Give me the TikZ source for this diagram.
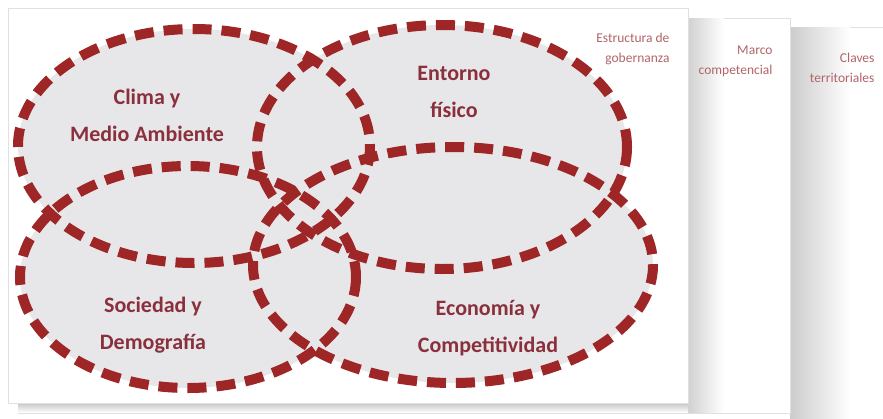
\documentclass[tikz,border=0pt]{standalone}
\usepackage{fontspec}
\setmainfont{Carlito}
\usetikzlibrary{shapes.geometric}
\definecolor{dashred}{RGB}{158,38,38}
\definecolor{txtred}{RGB}{138,48,60}
\definecolor{efill}{RGB}{231,231,233}
\definecolor{lbl}{RGB}{178,100,105}
\begin{document}
\begin{tikzpicture}[x=1pt,y=-1pt,
  card/.style={fill=white, draw=black!12, line width=0.6pt},
  blob/.style={ellipse, inner sep=0pt, fill=efill},
  ring/.style={draw=dashred, line width=10pt, dash pattern=on 19pt off 10pt},
  big/.style={text=txtred, font=\fontsize{22}{37}\selectfont\bfseries, align=center},
  small/.style={text=lbl, font=\fontsize{13.5}{20}\selectfont, align=right}]
\useasboundingbox (0,0) rectangle (883,418);
\fill[white] (0,0) rectangle (883,418);
% back card
\filldraw[card] (790,27) rectangle (890,425);
\shade[left color=black!20, right color=white] (790,27.5) rectangle (850,425);
% middle card
\filldraw[card] (18,18) rectangle (790,413);
\shade[left color=black!18, right color=white] (688,18.5) rectangle (724,412.5);
\shade[top color=black!22, bottom color=white] (18,403) rectangle (688,412.5);
% front card
\filldraw[card] (8,8) rectangle (688,403);
% card labels
\node[small, anchor=east] (lab1) at (673,49) {Estructura de\\gobernanza};
\node[small, anchor=east] (lab2) at (776,61) {Marco\\competencial};
\node[small, anchor=east] (lab3) at (878,68) {Claves\\territoriales};
% ellipse fills
\node[blob, minimum width=352pt, minimum height=234pt] (clima) at (194,146) {};
\node[blob, minimum width=370pt, minimum height=244pt] (entorno) at (442,147) {};
\node[blob, minimum width=336pt, minimum height=222pt] (sociedad) at (188,277) {};
\node[blob, minimum width=400pt, minimum height=236pt] (economia) at (453,265) {};
% dashed outlines
\draw[ring] (clima.center) ellipse [x radius=176, y radius=117];
\draw[ring] (entorno.center) ellipse [x radius=185, y radius=122];
\draw[ring] (sociedad.center) ellipse [x radius=168, y radius=111];
\draw[ring] (economia.center) ellipse [x radius=200, y radius=118];
% texts
\node[big] (t1) at (147,115) {Clima y\\Medio Ambiente};
\node[big] (t2) at (454,92) {Entorno\\físico};
\node[big] (t3) at (153,325) {Sociedad y\\Demografía};
\node[big] (t4) at (488,328) {Economía y\\Competitividad};
\end{tikzpicture}
\end{document}
